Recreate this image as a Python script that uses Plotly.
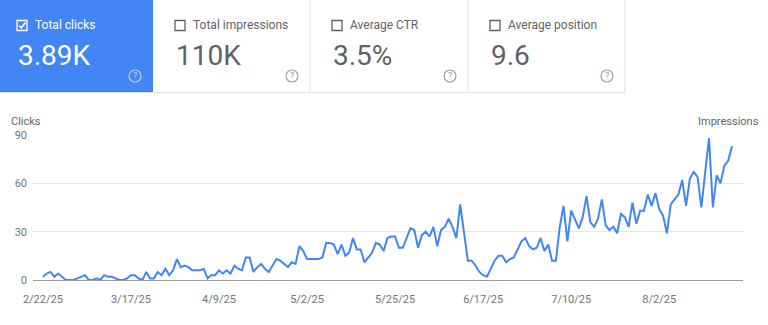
import pandas as pd
import plotly.graph_objects as go

# Daily clicks, 2025-02-22 .. 2025-08-21
start_date = "2025-02-22"
clicks = [
    2, 4, 5, 2, 4, 2, 0, 0, 0, 1, 2, 3, 0, 0, 1, 0, 3, 2, 2, 1,
    0, 0, 1, 3, 3, 1, 0, 5, 1, 1, 5, 3, 7, 3, 6, 13, 8, 9, 8, 6,
    6, 6, 7, 1, 3, 3, 6, 4, 6, 4, 9, 7, 6, 14, 14, 5, 8, 10, 7, 5,
    9, 13, 12, 10, 8, 11, 10, 21, 18, 13, 13, 13, 13, 14, 23, 23, 22, 16, 22, 15,
    17, 26, 19, 19, 11, 14, 17, 23, 22, 18, 26, 27, 27, 20, 20, 26, 32, 31, 20, 28,
    30, 27, 33, 21, 31, 33, 38, 33, 26, 47, 30, 12, 12, 9, 5, 3, 2, 7, 12, 15,
    15, 11, 13, 14, 19, 24, 26, 21, 19, 20, 26, 18, 22, 12, 12, 33, 46, 24, 43, 38,
    32, 39, 52, 36, 33, 38, 50, 34, 31, 33, 29, 41, 39, 33, 48, 35, 43, 43, 53, 46,
    54, 44, 40, 29, 47, 50, 53, 62, 46, 63, 67, 64, 45, 67, 88, 45, 65, 60, 71, 74,
    83,
]
dates = pd.date_range(start_date, periods=len(clicks), freq="D")

tick_dates = ["2025-02-22", "2025-03-17", "2025-04-09", "2025-05-02",
              "2025-05-25", "2025-06-17", "2025-07-10", "2025-08-02"]
tick_labels = ["2/22/25", "3/17/25", "4/9/25", "5/2/25",
               "5/25/25", "6/17/25", "7/10/25", "8/2/25"]
y_ticks = [0, 30, 60, 90]

card_labels = ["Total clicks", "Total impressions", "Average CTR", "Average position"]
card_values = ["3.89K", "110K", "3.5%", "9.6"]

W, H = 768, 325
ML, MR, MT, MB = 33, 25, 135, 45
PW, PH = W - ML - MR, H - MT - MB

BLUE = "#4285f4"
GREY_TXT = "#5f6368"
FONT = "Roboto, Arial, sans-serif"


def px(x):
    return (x - ML) / PW


def py(y):
    return (H - MB - y) / PH


fig = go.Figure()
fig.add_trace(go.Scatter(
    x=dates, y=clicks, mode="lines",
    line=dict(color=BLUE, width=2),
    hoverinfo="skip", showlegend=False,
))

shapes = []
annotations = []

# Metric cards along the top
card_x = [0, 154, 311, 469]
card_w = [153, 156, 157, 156]
card_top, card_bottom = 0, 92
for i, (lab, val) in enumerate(zip(card_labels, card_values)):
    x0 = card_x[i]
    x1 = x0 + card_w[i]
    active = i == 0
    fill = BLUE if active else "#ffffff"
    shapes.append(dict(type="rect", xref="paper", yref="paper", layer="below",
                       x0=px(x0), x1=px(x1), y0=py(card_bottom), y1=py(card_top),
                       fillcolor=fill, line=dict(width=0)))
    if not active:
        # right and bottom borders
        shapes.append(dict(type="line", xref="paper", yref="paper",
                           x0=px(x1), x1=px(x1), y0=py(card_bottom), y1=py(card_top),
                           line=dict(color="#e0e0e0", width=1)))
    shapes.append(dict(type="line", xref="paper", yref="paper",
                       x0=px(x0), x1=px(x1), y0=py(card_bottom + 0.5), y1=py(card_bottom + 0.5),
                       line=dict(color="#e0e0e0", width=1)))

    fg = "#ffffff" if active else GREY_TXT
    cb_x = x0 + 17 if i == 0 else x0 + 21
    # checkbox
    shapes.append(dict(type="rect", xref="paper", yref="paper",
                       x0=px(cb_x), x1=px(cb_x + 10), y0=py(30.5), y1=py(20.5),
                       line=dict(color=fg, width=1.3), fillcolor="rgba(0,0,0,0)"))
    if active:
        path = "M {} {} L {} {} L {} {}".format(
            px(cb_x + 2), py(25.5), px(cb_x + 4.3), py(28), px(cb_x + 8.3), py(22.5))
        shapes.append(dict(type="path", xref="paper", yref="paper", path=path,
                           line=dict(color="#ffffff", width=1.6)))
    annotations.append(dict(xref="paper", yref="paper", x=px(cb_x + 16), y=py(25.5),
                            text=lab, showarrow=False, xanchor="left", yanchor="middle",
                            font=dict(family=FONT, size=12, color=fg)))
    annotations.append(dict(xref="paper", yref="paper", x=px(cb_x - 1), y=py(55),
                            text=val, showarrow=False, xanchor="left", yanchor="middle",
                            font=dict(family=FONT, size=28, color=fg)))
    # help icon
    hx = x0 + card_w[i] - 18
    hy = 76
    icon_col = "rgba(255,255,255,0.6)" if active else "#9aa0a6"
    shapes.append(dict(type="circle", xref="paper", yref="paper",
                       x0=px(hx - 6), x1=px(hx + 6), y0=py(hy + 6), y1=py(hy - 6),
                       line=dict(color=icon_col, width=1.2)))
    annotations.append(dict(xref="paper", yref="paper", x=px(hx), y=py(hy),
                            text="?", showarrow=False, xanchor="center", yanchor="middle",
                            font=dict(family=FONT, size=9, color=icon_col)))

# Axis titles
annotations.append(dict(xref="paper", yref="paper", x=px(9), y=py(121),
                        text="Clicks", showarrow=False, xanchor="left", yanchor="middle",
                        font=dict(family=FONT, size=11, color=GREY_TXT)))
annotations.append(dict(xref="paper", yref="paper", x=px(761), y=py(121),
                        text="Impressions", showarrow=False, xanchor="right", yanchor="middle",
                        font=dict(family=FONT, size=11, color=GREY_TXT)))

x_start = dates[0] - pd.Timedelta(hours=62)
x_end = dates[-1] + pd.Timedelta(hours=69)

fig.update_layout(
    width=W, height=H,
    margin=dict(l=ML, r=MR, t=MT, b=MB),
    paper_bgcolor="#ffffff", plot_bgcolor="#ffffff",
    font=dict(family=FONT, size=11, color="#70757a"),
    shapes=shapes, annotations=annotations,
    xaxis=dict(
        range=[x_start, x_end],
        tickmode="array", tickvals=pd.to_datetime(tick_dates), ticktext=tick_labels,
        showgrid=False, zeroline=False, showline=True, linecolor="#9e9e9e", linewidth=1,
        ticks="", tickfont=dict(family=FONT, size=11, color="#70757a"),
        ticklabelstandoff=9, fixedrange=True,
    ),
    yaxis=dict(
        range=[0, 90], tickmode="array", tickvals=y_ticks,
        showgrid=True, gridcolor="#e6e6e6", gridwidth=1,
        zeroline=False, showline=False, ticks="",
        tickfont=dict(family=FONT, size=11, color="#70757a"),
        ticklabelstandoff=5, fixedrange=True,
    ),
)

fig.write_html("out.html", config={"displayModeBar": False})
